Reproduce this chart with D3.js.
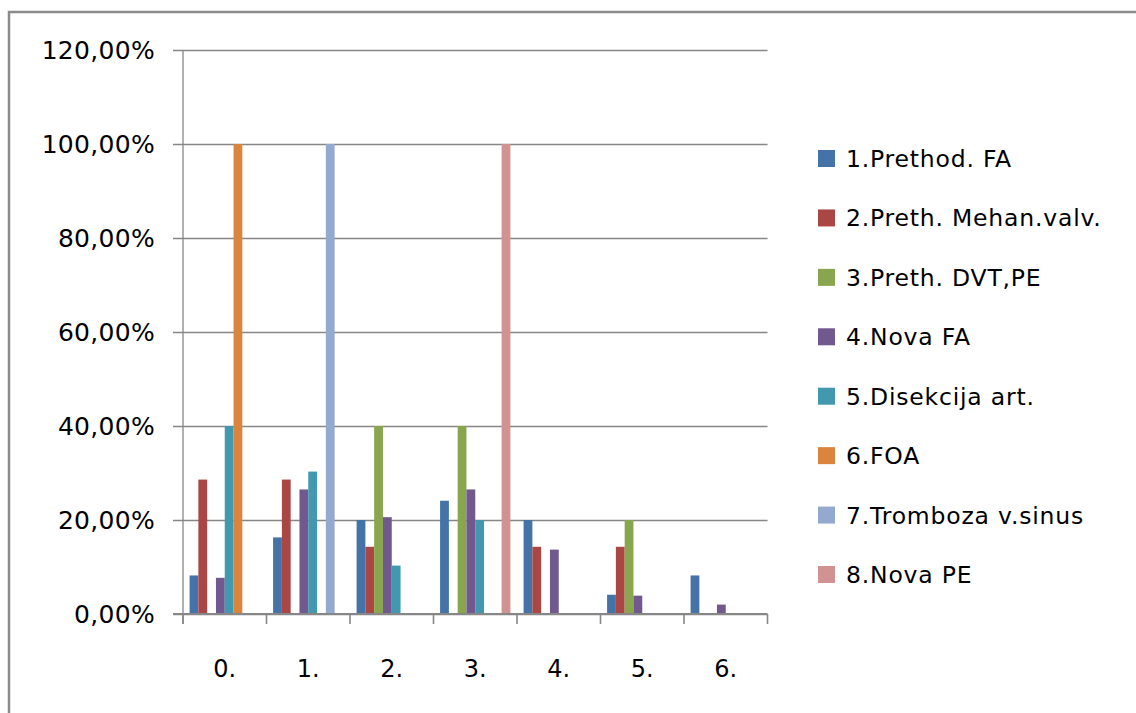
<!DOCTYPE html>
<html>
<head>
<meta charset="utf-8">
<script src="https://cdn.jsdelivr.net/npm/d3@7"></script>
<style>
html,body{margin:0;padding:0;background:#fff;}
svg{display:block;}
text{font-family:"DejaVu Sans",sans-serif;fill:#000;}
</style>
</head>
<body>
<svg id="chart" width="1136" height="713"></svg>
<script>
const categories = ["0.", "1.", "2.", "3.", "4.", "5.", "6."];
const seriesNames = ["1.Prethod. FA", "2.Preth. Mehan.valv.", "3.Preth. DVT,PE", "4.Nova FA",
  "5.Disekcija art.", "6.FOA", "7.Tromboza v.sinus", "8.Nova PE"];
const seriesColors = ["#4572A7", "#AA4643", "#89A54E", "#71588F", "#4198AF", "#DB843D", "#93A9CF", "#D19392"];
// values in percent, per series, across categories 0..6
const s1 = [8.2, 16.3, 20.0, 24.1, 20.0, 4.1, 8.2];
const s2 = [28.6, 28.6, 14.3, 0, 14.3, 14.3, 0];
const s3 = [0, 0, 40.0, 40.0, 0, 20.0, 0];
const s4 = [7.7, 26.5, 20.6, 26.5, 13.7, 3.9, 2.0];
const s5 = [40.0, 30.3, 10.3, 20.0, 0, 0, 0];
const s6 = [100, 0, 0, 0, 0, 0, 0];
const s7 = [0, 100, 0, 0, 0, 0, 0];
const s8 = [0, 0, 0, 100, 0, 0, 0];
const seriesValues = [s1, s2, s3, s4, s5, s6, s7, s8];
const yTicks = [0, 20, 40, 60, 80, 100, 120];
const yTickLabels = ["0,00%", "20,00%", "40,00%", "60,00%", "80,00%", "100,00%", "120,00%"];

const svg = d3.select("#chart");
const gridColor = "#878787";

// frame (left and top border)
svg.append("path").attr("d", "M9,713 L9,12 L1136,12")
  .attr("fill", "none").attr("stroke", "#8a8a8a").attr("stroke-width", 2.5);

const plotL = 183, plotR = 767.5, plotT = 50, plotB = 614;
const x0 = d3.scaleBand().domain(categories).range([plotL, plotR]).padding(0);
const x1 = d3.scaleBand().domain(d3.range(seriesNames.length)).range([0, x0.bandwidth()])
  .paddingInner(0).paddingOuter(0.75);
const y = d3.scaleLinear().domain([0, 120]).range([plotB, plotT]);

// gridlines with left ticks
const yAxis = d3.axisLeft(y).tickValues(yTicks).tickSize(-(plotR - plotL)).tickFormat((d, i) => yTickLabels[i]).tickPadding(28);
const gy = svg.append("g").attr("transform", `translate(${plotL},0)`).call(yAxis);
gy.select(".domain").remove();
gy.selectAll(".tick line").attr("stroke", gridColor).attr("stroke-width", 1.6).attr("x1", -10);
gy.selectAll(".tick text").attr("font-size", 25).attr("font-family", "DejaVu Sans").attr("fill", "#111")
  .attr("letter-spacing", 0.3).attr("dy", "0.35em");

// vertical axis line
svg.append("line").attr("x1", plotL).attr("x2", plotL).attr("y1", plotT).attr("y2", plotB + 10)
  .attr("stroke", gridColor).attr("stroke-width", 1.3);

// bars
const groups = svg.append("g").selectAll("g").data(categories).join("g")
  .attr("transform", d => `translate(${x0(d)},0)`);
groups.selectAll("rect").data((c, ci) => seriesValues.map((vals, si) => ({si, v: vals[ci]})))
  .join("rect")
  .filter(d => d.v > 0)
  .attr("x", d => x1(d.si))
  .attr("width", x1.bandwidth())
  .attr("y", d => y(d.v))
  .attr("height", d => y(0) - y(d.v))
  .attr("fill", d => seriesColors[d.si]);

// x axis baseline with ticks at category boundaries
svg.append("line").attr("x1", plotL - 10).attr("x2", plotR).attr("y1", plotB).attr("y2", plotB)
  .attr("stroke", gridColor).attr("stroke-width", 2);
const boundaries = categories.map(c => x0(c)).concat([plotR]);
svg.append("g").selectAll("line").data(boundaries).join("line")
  .attr("x1", d => d).attr("x2", d => d).attr("y1", plotB).attr("y2", plotB + 10)
  .attr("stroke", gridColor).attr("stroke-width", 1.6);
svg.append("g").selectAll("text").data(categories).join("text")
  .attr("x", d => x0(d) + x0.bandwidth() / 2)
  .attr("y", 677)
  .attr("text-anchor", "middle")
  .attr("font-size", 24)
  .attr("fill", "#111")
  .text(d => d);

// legend
const legendY = d3.scaleLinear().domain([0, 7]).range([158.5, 574.5]);
const lg = svg.append("g").selectAll("g").data(seriesNames).join("g")
  .attr("transform", (d, i) => `translate(818,${legendY(i)})`);
lg.append("rect").attr("x", 0).attr("y", -8.5).attr("width", 17).attr("height", 17)
  .attr("fill", (d, i) => seriesColors[i]);
lg.append("text").attr("x", 28).attr("y", 8.5).attr("font-size", 23.5).attr("letter-spacing", 0.8)
  .attr("fill", "#111").text(d => d);
</script>
</body>
</html>
